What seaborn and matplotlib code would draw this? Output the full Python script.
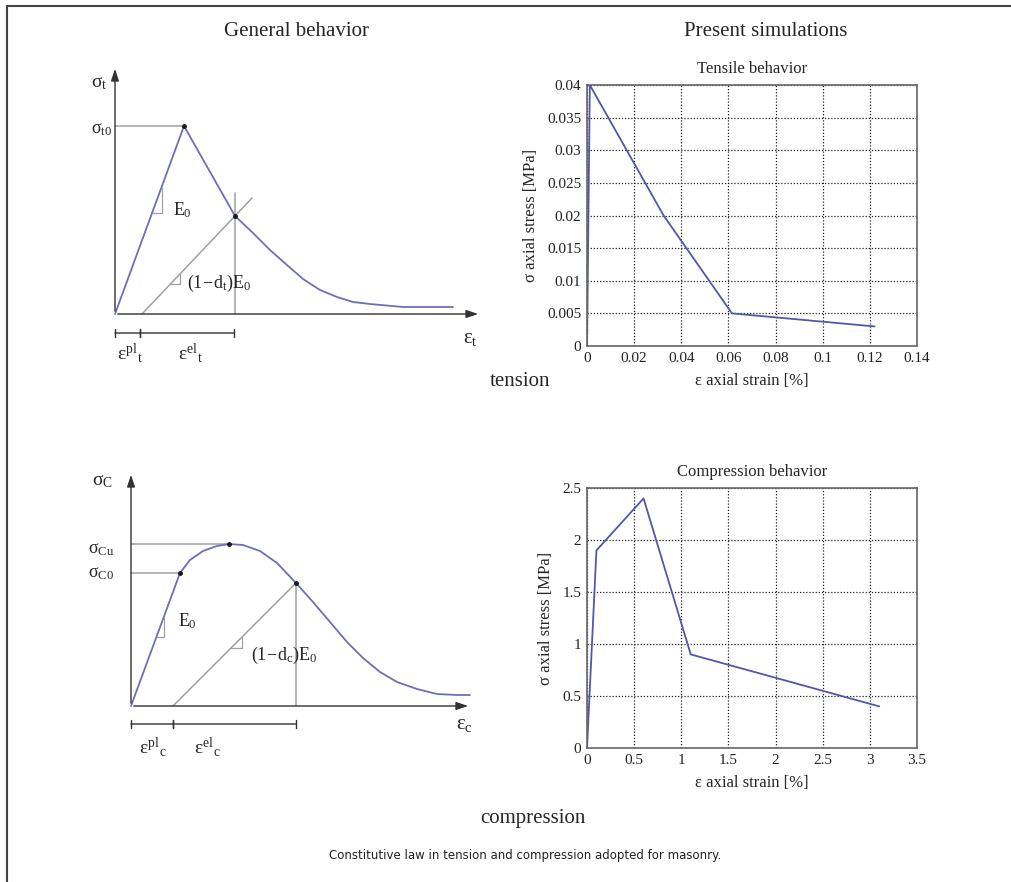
import numpy as np
import pandas as pd
import matplotlib
matplotlib.use("Agg")
import matplotlib.pyplot as plt
from matplotlib.lines import Line2D
import seaborn as sns

# simulated curves (right panels)
tens_strain = [0, 0.0012, 0.0325, 0.0615, 0.122]
tens_stress = [0, 0.04, 0.02, 0.005, 0.003]
comp_strain = [0, 0.1, 0.6, 1.1, 3.1]
comp_stress = [0, 1.9, 2.4, 0.9, 0.4]

tens_xticks = [0, 0.02, 0.04, 0.06, 0.08, 0.1, 0.12, 0.14]
tens_yticks = [0, 0.005, 0.01, 0.015, 0.02, 0.025, 0.03, 0.035, 0.04]
comp_xticks = [0, 0.5, 1, 1.5, 2, 2.5, 3, 3.5]
comp_yticks = [0, 0.5, 1, 1.5, 2, 2.5]

# schematic curves (left panels), sketch units
t_load_x = [0, 69]
t_load_y = [0, 188]
t_soft_x = [69, 120, 138, 155, 172, 188, 205, 222, 238, 255, 288, 338]
t_soft_y = [188, 98, 81, 64, 49, 35, 24, 17, 12, 10, 7, 7]
t_unload_x = [27, 137]
t_unload_y = [0, 116]

c_load_x = [0, 49]
c_load_y = [0, 133]
c_soft_x = [49, 59, 72, 86, 98, 112, 129, 146, 165, 182, 199, 216, 232, 249, 266, 286, 306, 326, 339]
c_soft_y = [133, 146, 155, 160, 162, 161, 155, 143, 123, 104, 84, 64, 48, 34, 24, 17, 12, 11, 11]
c_unload_x = [42, 165]
c_unload_y = [0, 123]

sns.set_theme(style="white")
plt.rcParams['font.family'] = ['Liberation Serif', 'DejaVu Serif']
plt.rcParams['mathtext.fontset'] = 'custom'
plt.rcParams['mathtext.rm'] = 'Liberation Serif'
plt.rcParams['mathtext.it'] = 'Liberation Serif'
plt.rcParams['mathtext.bf'] = 'Liberation Serif'

W, H = 1011, 882
fig = plt.figure(figsize=(W / 100, H / 100), dpi=100)
fig.patch.set_facecolor('white')

def px_axes(x0, y0, x1, y1):
    return fig.add_axes([x0 / W, 1 - y1 / H, (x1 - x0) / W, (y1 - y0) / H])

curve_col = '#6d6fb8'
line_col = '#5058a8'
gray = '#a0a0a0'

# frame (left and top edges)
fig.add_artist(Line2D([7 / W, 7 / W], [0, 1 - 6 / H], color='#444444', lw=1.5))
fig.add_artist(Line2D([7 / W, 1], [1 - 6 / H, 1 - 6 / H], color='#444444', lw=1.5))

arrow = dict(arrowstyle='-|>,head_length=0.6,head_width=0.2', color='#333333', lw=1)
dim = dict(arrowstyle='|-|,widthA=0.25,widthB=0.25', color='#333333', lw=1, shrinkA=0, shrinkB=0)

# ---------------- top left: tension schematic ----------------
ax1 = px_axes(60, 50, 500, 380)
ax1.set_xlim(60 - 115, 500 - 115)
ax1.set_ylim(314 - 380, 314 - 50)
ax1.axis('off')
ax1.annotate('', xy=(0, 248), xytext=(0, 0), arrowprops=arrow)
ax1.annotate('', xy=(366, 0), xytext=(0, 0), arrowprops=arrow)
ax1.plot([0, t_load_x[1]], [t_load_y[1]] * 2, color=gray, lw=1.1)
ax1.plot([t_soft_x[1]] * 2, [0, 121], color=gray, lw=1.1)
ax1.plot(t_unload_x, t_unload_y, color=gray, lw=1.1)
sns.lineplot(x=t_load_x, y=t_load_y, ax=ax1, color=curve_col, lw=1.3, sort=False, estimator=None)
sns.lineplot(x=t_soft_x, y=t_soft_y, ax=ax1, color=curve_col, lw=1.3, sort=False, estimator=None)
ax1.plot([t_soft_x[0], t_soft_x[1]], [t_soft_y[0], t_soft_y[1]], 'o', color='k', ms=2.5)
# slope triangles
ax1.plot([37.5, 46.5, 46.5], [101, 101, 126], color=gray, lw=0.9)
ax1.plot([55, 65, 65], [30, 30, 40], color=gray, lw=0.9)
ax1.text(58, 104, r'$E_0$', fontsize=13, va='center', ha='left')
ax1.text(104, 31, r'$(1\!-\!d_t)E_0$', fontsize=13, va='center', ha='center')
ax1.text(-16, 231, r'$\sigma_t$', fontsize=14, va='center', ha='center')
ax1.text(-3, 184, r'$\sigma_{t0}$', fontsize=13, va='center', ha='right')
ax1.text(355, -24, r'$\varepsilon_t$', fontsize=15, va='center', ha='center')
ax1.annotate('', xy=(0, -19), xytext=(25, -19), arrowprops=dim)
ax1.annotate('', xy=(25, -19), xytext=(119, -19), arrowprops=dim)
ax1.text(15, -39, r'$\varepsilon^{pl}{}_{t}$', fontsize=14, va='center', ha='center')
ax1.text(76, -39, r'$\varepsilon^{el}{}_{t}$', fontsize=14, va='center', ha='center')

# ---------------- bottom left: compression schematic ----------------
ax3 = px_axes(60, 460, 500, 780)
ax3.set_xlim(60 - 131, 500 - 131)
ax3.set_ylim(706 - 780, 706 - 460)
ax3.axis('off')
ax3.annotate('', xy=(0, 234), xytext=(0, 0), arrowprops=arrow)
ax3.annotate('', xy=(340, 0), xytext=(0, 0), arrowprops=arrow)
ax3.plot([0, c_load_x[1]], [c_load_y[1]] * 2, color=gray, lw=1.1)
ax3.plot([0, c_soft_x[4]], [c_soft_y[4]] * 2, color=gray, lw=1.1)
ax3.plot([c_unload_x[1]] * 2, [0, c_unload_y[1]], color=gray, lw=1.1)
ax3.plot(c_unload_x, c_unload_y, color=gray, lw=1.1)
sns.lineplot(x=c_load_x, y=c_load_y, ax=ax3, color=curve_col, lw=1.3, sort=False, estimator=None)
sns.lineplot(x=c_soft_x, y=c_soft_y, ax=ax3, color=curve_col, lw=1.3, sort=False, estimator=None)
ax3.plot([c_soft_x[0], c_soft_x[4], c_soft_x[8]], [c_soft_y[0], c_soft_y[4], c_soft_y[8]],
         'o', color='k', ms=2.5)
ax3.plot([25.5, 32.5, 32.5], [69, 69, 88], color=gray, lw=0.9)
ax3.plot([100, 111, 111], [58, 58, 69], color=gray, lw=0.9)
ax3.text(47, 85, r'$E_0$', fontsize=13, va='center', ha='left')
ax3.text(153, 51, r'$(1\!-\!d_c)E_0$', fontsize=13, va='center', ha='center')
ax3.text(-29, 225, r'$\sigma_C$', fontsize=14, va='center', ha='center')
ax3.text(-17, 157, r'$\sigma_{Cu}$', fontsize=13, va='center', ha='right')
ax3.text(-17, 133, r'$\sigma_{C0}$', fontsize=13, va='center', ha='right')
ax3.text(333, -18, r'$\varepsilon_c$', fontsize=15, va='center', ha='center')
ax3.annotate('', xy=(0, -18), xytext=(42, -18), arrowprops=dim)
ax3.annotate('', xy=(42, -18), xytext=(165, -18), arrowprops=dim)
ax3.text(22, -41, r'$\varepsilon^{pl}{}_{c}$', fontsize=14, va='center', ha='center')
ax3.text(76, -41, r'$\varepsilon^{el}{}_{c}$', fontsize=14, va='center', ha='center')


# ---------------- right: simulations ----------------
def sim_axes(ax, x, y, xticks, yticks, title):
    sns.lineplot(x=x, y=y, ax=ax, color=line_col, lw=1.3, sort=False, estimator=None)
    ax.set_xlim(xticks[0], xticks[-1])
    ax.set_ylim(yticks[0], yticks[-1])
    ax.set_xticks(xticks)
    ax.set_yticks(yticks)
    ax.set_xticklabels(['%g' % v for v in xticks])
    ax.set_yticklabels(['%g' % v for v in yticks])
    ax.grid(True, linestyle=(0, (1, 1.5)), color='#222222', lw=0.9)
    ax.tick_params(direction='in', length=3, labelsize=11, colors='#222222', pad=4)
    for s in ax.spines.values():
        s.set_color('#666666')
        s.set_linewidth(1.2)
    ax.set_xlabel('\u03b5 axial strain [%]', fontsize=12, labelpad=6)
    ax.set_ylabel('\u03c3 axial stress [MPa]', fontsize=12, labelpad=6)
    ax.set_title(title, fontsize=12, pad=9)


ax2 = px_axes(587, 85, 917, 346)
sim_axes(ax2, tens_strain, tens_stress, tens_xticks, tens_yticks, 'Tensile behavior')
ax4 = px_axes(587, 488, 917, 748)
sim_axes(ax4, comp_strain, comp_stress, comp_xticks, comp_yticks, 'Compression behavior')

# headings and captions
fig.text(297 / W, 1 - 32 / H, 'General behavior', fontsize=15, ha='center', va='center')
fig.text(766 / W, 1 - 32 / H, 'Present simulations', fontsize=15, ha='center', va='center')
fig.text(520 / W, 1 - 382 / H, 'tension', fontsize=15, ha='center', va='center')
fig.text(533 / W, 1 - 818 / H, 'compression', fontsize=15, ha='center', va='center')
fig.text(525 / W, 1 - 856 / H, 'Constitutive law in tension and compression adopted for masonry.',
         fontsize=8.5, ha='center', va='center', family=['DejaVu Sans'], color='#222222')

fig.savefig('out.png', dpi=100)
